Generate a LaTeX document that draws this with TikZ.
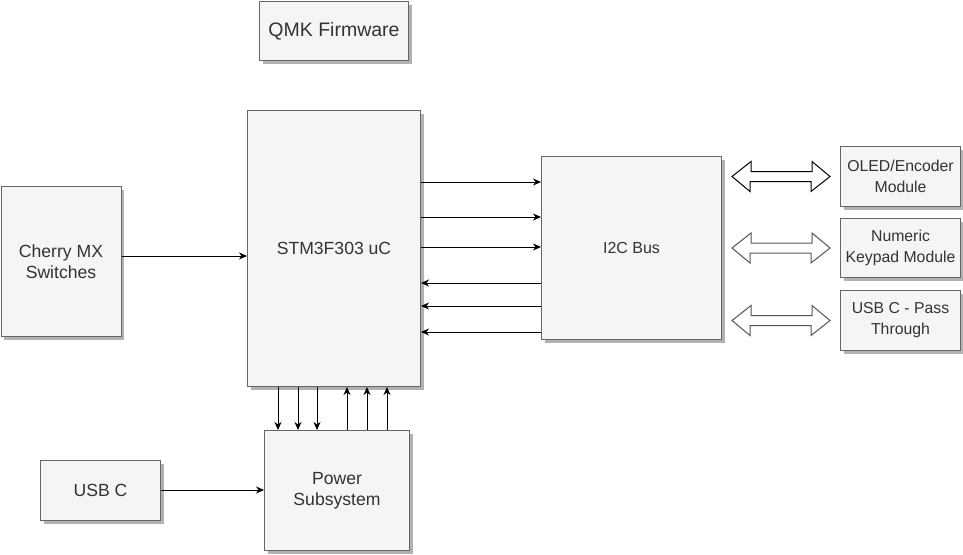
\documentclass[tikz,border=0pt]{standalone}
\usepackage{fontspec}
\setmainfont{Liberation Sans}
\usetikzlibrary{arrows.meta,shadows,calc}
\definecolor{boxfill}{HTML}{F5F5F5}
\definecolor{boxline}{HTML}{666666}
\definecolor{txt}{HTML}{333333}
\definecolor{dblgray}{HTML}{555555}
\tikzset{
  box/.style={draw=boxline, line width=1pt, fill=boxfill, anchor=north west,
    inner sep=0pt, align=center, text=txt, font=\fontsize{17.6}{21}\selectfont,
    drop shadow={shadow xshift=3pt, shadow yshift=-3pt, fill=black!30, opacity=1}},
  smallbox/.style={box, font=\fontsize{15.8}{21}\selectfont},
  arr/.style={line width=1pt, -{Stealth[length=8pt,width=7pt,inset=2.5pt]}},
  dbl/.style={line width=1pt, fill=white, line join=miter},
}
\begin{document}
\begin{tikzpicture}[x=1pt,y=-1pt]
\useasboundingbox[fill=white] (0,0) rectangle (963,554);
% boxes
\node[box, minimum width=149pt, minimum height=59pt, font=\fontsize{19.5}{23}\selectfont] (qmk) at (259,1) {QMK Firmware};
\node[box, minimum width=173pt, minimum height=276pt] (stm) at (247,110) {STM3F303 uC};
\node[box, minimum width=120pt, minimum height=150pt] (cherry) at (0.5,186) {Cherry MX\\Switches};
\node[box, minimum width=180pt, minimum height=183pt, font=\fontsize{16}{20}\selectfont] (i2c) at (541,156) {I2C Bus};
\node[smallbox, minimum width=120pt, minimum height=60pt] (oled) at (840,146) {OLED/Encoder\\Module};
\node[smallbox, minimum width=120pt, minimum height=59pt] (num) at (840,218) {Numeric\\Keypad Module};
\node[smallbox, minimum width=120pt, minimum height=60pt] (pass) at (840,290) {USB C - Pass\\Through};
\node[box, minimum width=145pt, minimum height=120pt] (power) at (264,430) {Power\\Subsystem};
\node[box, minimum width=120pt, minimum height=60pt] (usbc) at (40,460) {USB C};
% cherry -> stm
\draw[arr] (cherry.east |- 0,256) -- (stm.west |- 0,256);
% stm <-> i2c
\foreach \yy in {182,217,247}{
  \draw[arr] (stm.east |- 0,\yy) -- (i2c.west |- 0,\yy);
}
\foreach \yy in {283,306,332}{
  \draw[arr] (i2c.west |- 0,\yy) -- (stm.east |- 0,\yy);
}
% stm <-> power
\foreach \xx in {278,298,317}{
  \draw[arr] (stm.south -| \xx,0) -- (power.north -| \xx,0);
}
\foreach \xx in {347,367,387}{
  \draw[arr] (power.north -| \xx,0) -- (stm.south -| \xx,0);
}
% usbc -> power
\draw[arr] (usbc.east |- 0,490) -- (power.west |- 0,490);
% double arrows i2c <-> modules
\foreach \m/\c in {oled/black, num/dblgray, pass/dblgray}{
  \coordinate (t\m) at ($(i2c.east |- \m.west)+(10,0)$);
  \draw[dbl, draw=\c] (t\m) -- ++(19,-15) -- ++(0,10) -- ++(61,0) -- ++(0,-10)
     -- ($(\m.west)+(-10,0)$) -- ++(-19,15) -- ++(0,-10) -- ++(-61,0) -- ++(0,10) -- cycle;
}
\end{tikzpicture}
\end{document}
